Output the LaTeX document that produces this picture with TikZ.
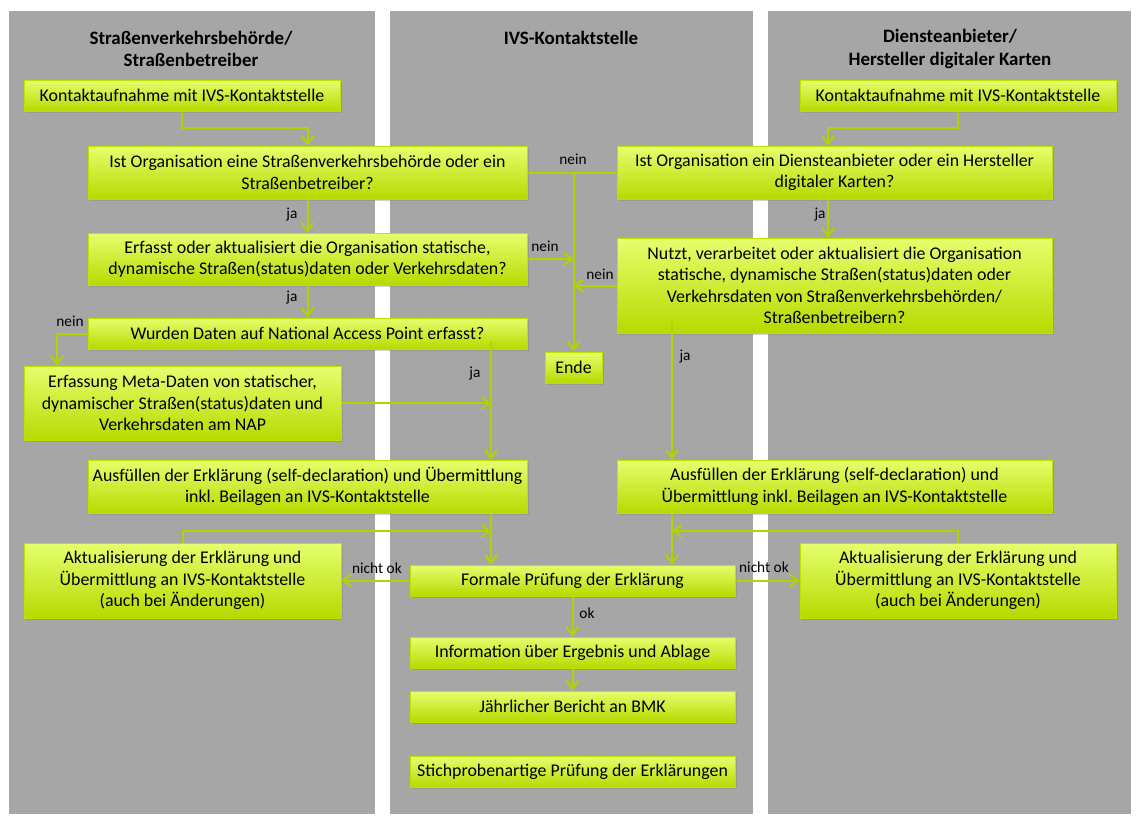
\documentclass[tikz,border=0pt]{standalone}
\usepackage{fontspec}
\setmainfont{Carlito}
\usepackage{tikz}
\usetikzlibrary{arrows.meta,positioning,shadows,calc}
\definecolor{lanegray}{HTML}{A6A6A6}
\definecolor{boxtop}{HTML}{E6FF6E}
\definecolor{boxbot}{HTML}{B6DA00}
\definecolor{boxline}{HTML}{C2E000}
\definecolor{flowgreen}{HTML}{B4D200}
\frenchspacing
\begin{document}
\begin{tikzpicture}[x = .75pt, y = -.75pt,
  box/.style = {draw = boxline, line width = .75pt, top color = boxtop, bottom color = boxbot,
    align = center, inner sep = 0pt, font = \fontsize{13.4}{16}\selectfont,
    drop shadow = {shadow xshift = 1.2pt, shadow yshift = -1.5pt, opacity = .35}},
  flow/.style = {draw = flowgreen, line width = 1.5pt, -{Straight Barb[length = 6pt, width = 9pt]}},
  link/.style = {draw = flowgreen, line width = 1.5pt},
  lbl/.style = {font = \fontsize{11.5}{13}\selectfont, inner sep = 0pt},
  head/.style = {font = \fontsize{14.2}{17}\selectfont\bfseries, align = center}]
\useasboundingbox (0,0) rectangle (1146,832);
% lanes
\fill[lanegray] (9,11) rectangle (375,814);
\fill[lanegray] (390,11) rectangle (753,814);
\fill[lanegray] (768,11) rectangle (1131,814);
\node[head] (hl) at (191,49) {Straßenverkehrsbehörde/\\Straßenbetreiber};
\node[head] (hm) at (571,38) {IVS-Kontaktstelle};
\node[head] (hr) at (950,49) {Diensteanbieter/\\Hersteller digitaler Karten};
% left lane
\node[box, minimum width = 237pt, minimum height = 23.25pt] (l1) at (182,95.5) {Kontaktaufnahme mit IVS-Kontaktstelle};
\node[box, minimum width = 329.25pt, minimum height = 39.75pt] (q1) at (307.5,172.5) {Ist Organisation eine Straßenverkehrsbehörde oder ein\\Straßenbetreiber?};
\node[box, minimum width = 329.25pt, minimum height = 39pt] (q2) at (307.5,259) {Erfasst oder aktualisiert die Organisation statische,\\dynamische Straßen(status)daten oder Verkehrsdaten?};
\node[box, minimum width = 329.25pt, minimum height = 23.25pt] (q3) at (307.5,333.5) {Wurden Daten auf National Access Point erfasst?};
\node[box, minimum width = 237.75pt, minimum height = 55.5pt] (l4) at (182.5,403) {Erfassung Meta-Daten von statischer,\\dynamischer Straßen(status)daten und\\Verkehrsdaten am NAP};
\node[box, minimum width = 329.25pt, minimum height = 39.75pt] (l5) at (307.5,486.5) {Ausfüllen der Erklärung (self-declaration) und Übermittlung\\inkl. Beilagen an IVS-Kontaktstelle};
\node[box, minimum width = 237.75pt, minimum height = 56.25pt] (l6) at (182.5,580.5) {Aktualisierung der Erklärung und\\Übermittlung an IVS-Kontaktstelle\\(auch bei Änderungen)};
% middle lane
\node[box, minimum width = 42.75pt, minimum height = 23.25pt] (ende) at (573.5,367.5) {Ende};
\node[box, minimum width = 243.75pt, minimum height = 23.25pt] (fp) at (572.5,580.5) {Formale Prüfung der Erklärung};
\node[box, minimum width = 243.75pt, minimum height = 23.25pt] (info) at (572.5,652.5) {Information über Ergebnis und Ablage};
\node[box, minimum width = 243.75pt, minimum height = 23.25pt] (bmk) at (572.5,706.5) {Jährlicher Bericht an BMK};
\node[box, minimum width = 243.75pt, minimum height = 23.25pt] (stich) at (572.5,771.5) {Stichprobenartige Prüfung der Erklärungen};
% right lane
\node[box, minimum width = 237pt, minimum height = 23.25pt] (r1) at (958,95.5) {Kontaktaufnahme mit IVS-Kontaktstelle};
\node[box, minimum width = 326.25pt, minimum height = 39.75pt] (r2) at (834.5,172.5) {Ist Organisation ein Diensteanbieter oder ein Hersteller\\digitaler Karten?};
\node[box, minimum width = 326.25pt, minimum height = 71.25pt] (r3) at (834.5,285.5) {Nutzt, verarbeitet oder aktualisiert die Organisation\\statische, dynamische Straßen(status)daten oder\\Verkehrsdaten von Straßenverkehrsbehörden/\\Straßenbetreibern?};
\node[box, minimum width = 326.25pt, minimum height = 39.75pt] (r4) at (834.5,486.5) {Ausfüllen der Erklärung (self-declaration) und\\Übermittlung inkl. Beilagen an IVS-Kontaktstelle};
\node[box, minimum width = 237pt, minimum height = 56.25pt] (r5) at (958,580.5) {Aktualisierung der Erklärung und\\Übermittlung an IVS-Kontaktstelle\\(auch bei Änderungen)};
% bend points
\coordinate (k1) at (0,128);
\coordinate (nx) at (57,0);
\coordinate (ax) at (491,531);
\coordinate (bx) at (672,531);
\coordinate (rx) at (828,0);
% connectors
\draw[flow] (l1.south) -- (l1.south |- k1) -| (q1.north);
\draw[flow] (q1.south) -- (q2.north);
\draw[flow] (q2.south) -- (q3.north);
\draw[link] (q1.east) -- (r2.west);
\draw[flow] (ende.north |- q1.east) -- (ende.north);
\draw[flow] (q2.east) -- (q2.east -| ende.north);
\draw[flow] (r3.west) -- (r3.west -| ende.north);
\draw[flow] (q3.west) -| (nx |- l4.north);
\draw[flow] ([yshift = 6pt]q3.south -| ax) -- (l5.north -| ax);
\draw[flow] (l4.east) -- (l4.east -| ax);
\draw[flow] (l5.south -| ax) -- (fp.north -| ax);
\draw[flow] (l6.north) |- (ax);
\draw[flow] (fp.west) -- (l6.east);
\draw[flow] (fp.east) -- (r5.west);
\draw[flow] (fp.south) -- (info.north);
\draw[flow] (info.south) -- (bmk.north);
\draw[flow] (r1.south) -- (r1.south |- k1) -| (rx |- r2.north);
\draw[flow] (rx |- r2.south) -- (rx |- r3.north);
\draw[flow] ([yshift = 11pt]r3.south -| bx) -- (r4.north -| bx);
\draw[flow] (r4.south -| bx) -- (fp.north -| bx);
\draw[flow] (r5.north) |- (bx);
% labels
\node[lbl] (ja1) at (292,215) {ja};
\node[lbl] (ja2) at (292,298) {ja};
\node[lbl] (ne1) at (573,159) {nein};
\node[lbl] (ne2) at (545,246) {nein};
\node[lbl] (ne3) at (600,274) {nein};
\node[lbl] (ne4) at (70,321) {nein};
\node[lbl] (ja3) at (475,374) {ja};
\node[lbl] (ja4) at (685,357) {ja};
\node[lbl] (ja5) at (820,215) {ja};
\node[lbl] (no1) at (377,568) {nicht ok};
\node[lbl] (no2) at (764,567) {nicht ok};
\node[lbl] (ok) at (587,613) {ok};
\end{tikzpicture}
\end{document}
